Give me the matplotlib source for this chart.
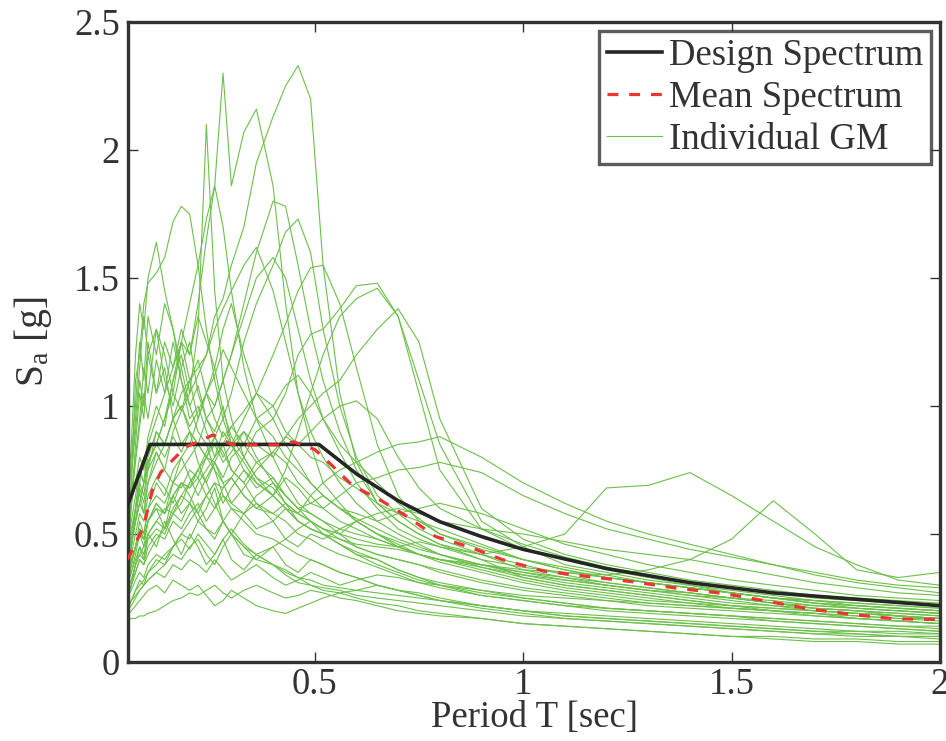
import numpy as np
import matplotlib
matplotlib.use('Agg')
import matplotlib.pyplot as plt
from matplotlib.ticker import FormatStrFormatter

plt.rcParams['font.family'] = ['Liberation Serif', 'DejaVu Serif']
plt.rcParams['mathtext.fontset'] = 'custom'
plt.rcParams['mathtext.rm'] = 'Liberation Serif'
plt.rcParams['mathtext.it'] = 'Liberation Serif:italic'

# Design spectrum
design_T = [0.05, 0.105, 0.51, 0.60, 0.70, 0.80, 0.90, 1.0, 1.2, 1.4, 1.5, 1.6, 1.8, 2.0]
design_Sa = [0.607, 0.85, 0.85, 0.735, 0.63, 0.548, 0.49, 0.44, 0.365, 0.31, 0.29, 0.27, 0.245, 0.22]

# Mean spectrum
mean_T = [0.05, 0.057, 0.09, 0.11, 0.13, 0.16, 0.19, 0.22, 0.256, 0.30, 0.35, 0.41, 0.45,
          0.50, 0.54, 0.59, 0.66, 0.72, 0.79, 0.87, 0.95, 1.05, 1.16, 1.26, 1.37, 1.48,
          1.59, 1.69, 1.80, 1.89, 2.0]
mean_Sa = [0.40, 0.42, 0.53, 0.67, 0.74, 0.79, 0.84, 0.86, 0.887, 0.85, 0.848, 0.848, 0.86,
           0.83, 0.77, 0.69, 0.63, 0.57, 0.49, 0.45, 0.40, 0.355, 0.333, 0.314, 0.288, 0.268,
           0.236, 0.206, 0.184, 0.169, 0.166]

# Individual ground motions, all on the same period grid
gm_T = [0.05, 0.06, 0.07, 0.08, 0.09, 0.10, 0.12, 0.14, 0.16, 0.18, 0.20,
        0.22, 0.24, 0.26, 0.28, 0.30, 0.33, 0.36, 0.40, 0.43, 0.46, 0.49,
        0.52, 0.56, 0.60, 0.65, 0.70, 0.75, 0.80, 0.90, 1.0,
        1.1, 1.2, 1.3, 1.4, 1.5, 1.6, 1.7, 1.8, 1.9, 2.0]

gm_Sa = [
    [0.45, 0.52, 0.60, 0.66, 0.58, 0.70, 0.82, 0.75, 0.90, 0.98, 1.05,
     1.12, 1.20, 1.35, 1.42, 1.55, 1.70, 1.95, 2.13, 2.25, 2.33, 2.20,
     1.55, 1.05, 0.78, 0.62, 0.55, 0.50, 0.46, 0.40, 0.33,
     0.30, 0.28, 0.26, 0.24, 0.22, 0.20, 0.19, 0.17, 0.16, 0.15],
    [0.40, 0.48, 0.55, 0.62, 0.70, 0.78, 0.85, 0.95, 1.10, 1.25, 1.40,
     1.55, 1.73, 1.86, 2.30, 1.86, 2.07, 2.16, 1.86, 1.40, 1.05, 0.85,
     0.70, 0.62, 0.55, 0.50, 0.45, 0.42, 0.40, 0.36, 0.32,
     0.29, 0.27, 0.25, 0.23, 0.21, 0.20, 0.18, 0.17, 0.16, 0.15],
    [0.55, 0.62, 0.70, 0.80, 0.75, 0.88, 1.00, 0.92, 1.10, 1.20, 1.05,
     1.30, 2.10, 1.45, 1.10, 0.95, 0.80, 0.72, 0.65, 0.60, 0.55, 0.52,
     0.50, 0.46, 0.42, 0.40, 0.36, 0.33, 0.30, 0.26, 0.24,
     0.22, 0.20, 0.19, 0.18, 0.17, 0.16, 0.15, 0.14, 0.13, 0.12],
    [0.35, 0.40, 0.45, 0.50, 0.48, 0.55, 0.60, 0.58, 0.70, 0.75, 0.80,
     0.85, 0.95, 1.00, 1.10, 1.20, 1.40, 1.60, 1.80, 1.78, 1.55, 1.30,
     1.10, 0.90, 0.75, 0.62, 0.55, 0.50, 0.46, 0.42, 0.38,
     0.34, 0.31, 0.29, 0.27, 0.25, 0.23, 0.21, 0.20, 0.19, 0.18],
    [0.50, 0.70, 1.10, 1.20, 1.40, 1.48, 1.52, 1.58, 1.72, 1.78, 1.75,
     1.55, 1.30, 1.10, 0.95, 0.85, 0.90, 0.80, 0.70, 0.65, 0.60, 0.55,
     0.50, 0.46, 0.42, 0.38, 0.35, 0.32, 0.30, 0.27, 0.25,
     0.23, 0.21, 0.20, 0.19, 0.18, 0.16, 0.15, 0.14, 0.13, 0.12],
    [0.30, 0.45, 0.60, 0.75, 0.70, 0.85, 0.95, 1.05, 1.15, 1.25, 1.20,
     1.40, 1.65, 1.86, 1.70, 1.45, 1.15, 0.95, 0.80, 0.70, 0.62, 0.58,
     0.55, 0.50, 0.45, 0.42, 0.40, 0.38, 0.35, 0.31, 0.28,
     0.26, 0.24, 0.22, 0.21, 0.20, 0.19, 0.18, 0.17, 0.16, 0.15],
    [0.25, 0.30, 0.35, 0.40, 0.38, 0.42, 0.48, 0.52, 0.58, 0.62, 0.70,
     0.75, 0.82, 0.88, 0.95, 1.05, 1.25, 1.40, 1.55, 1.68, 1.73, 1.60,
     1.30, 1.00, 0.80, 0.65, 0.58, 0.52, 0.48, 0.42, 0.36,
     0.33, 0.30, 0.28, 0.26, 0.24, 0.22, 0.21, 0.20, 0.19, 0.18],
    [0.30, 0.35, 0.40, 0.45, 0.42, 0.50, 0.55, 0.52, 0.60, 0.65, 0.62,
     0.70, 0.75, 0.80, 0.90, 0.85, 0.95, 1.05, 1.20, 1.32, 1.45, 1.54,
     1.55, 1.40, 1.15, 0.85, 0.65, 0.55, 0.50, 0.45, 0.40,
     0.37, 0.34, 0.31, 0.29, 0.27, 0.25, 0.23, 0.22, 0.21, 0.20],
    [0.20, 0.24, 0.28, 0.30, 0.32, 0.35, 0.38, 0.42, 0.45, 0.50, 0.55,
     0.60, 0.65, 0.70, 0.68, 0.72, 0.80, 0.90, 0.95, 1.05, 1.20, 1.28,
     1.30, 1.38, 1.47, 1.48, 1.35, 1.10, 0.85, 0.55, 0.45,
     0.38, 0.35, 0.32, 0.30, 0.28, 0.26, 0.24, 0.23, 0.22, 0.21],
    [0.35, 0.40, 0.45, 0.55, 0.50, 0.60, 0.65, 0.62, 0.70, 0.68, 0.75,
     0.72, 0.80, 0.85, 0.78, 0.82, 0.90, 0.85, 0.80, 0.88, 0.95, 1.00,
     1.05, 1.10, 1.20, 1.30, 1.38, 1.25, 0.95, 0.60, 0.48,
     0.42, 0.38, 0.35, 0.32, 0.30, 0.28, 0.26, 0.25, 0.24, 0.23],
    [0.45, 0.55, 0.65, 0.75, 0.70, 0.80, 0.90, 0.85, 0.95, 1.00, 0.90,
     0.85, 0.80, 0.75, 0.70, 0.72, 0.65, 0.60, 0.65, 0.75, 0.90, 1.05,
     1.20, 1.35, 1.42, 1.46, 1.35, 1.05, 0.75, 0.52, 0.44,
     0.40, 0.36, 0.33, 0.30, 0.27, 0.25, 0.23, 0.21, 0.20, 0.19],
    [0.60, 0.85, 1.20, 1.40, 1.30, 1.50, 1.64, 1.45, 1.30, 1.15, 1.00,
     0.90, 0.85, 0.75, 0.65, 0.60, 0.55, 0.50, 0.48, 0.45, 0.42, 0.40,
     0.38, 0.35, 0.33, 0.30, 0.28, 0.26, 0.24, 0.21, 0.19,
     0.17, 0.16, 0.15, 0.14, 0.13, 0.12, 0.11, 0.11, 0.10, 0.10],
    [0.40, 0.48, 0.55, 0.62, 0.58, 0.70, 0.78, 0.85, 0.95, 1.05, 1.10,
     1.15, 1.20, 1.30, 1.38, 1.45, 1.55, 1.62, 1.45, 1.25, 1.05, 0.90,
     0.80, 0.70, 0.62, 0.55, 0.50, 0.46, 0.42, 0.38, 0.34,
     0.31, 0.29, 0.27, 0.25, 0.23, 0.22, 0.20, 0.19, 0.18, 0.17],
    [0.30, 0.38, 0.45, 0.52, 0.50, 0.60, 0.70, 0.65, 0.75, 0.80, 0.85,
     0.95, 1.05, 1.00, 1.10, 1.20, 1.35, 1.50, 1.58, 1.50, 1.30, 1.10,
     0.95, 0.85, 0.78, 0.70, 0.62, 0.56, 0.50, 0.44, 0.40,
     0.36, 0.33, 0.31, 0.29, 0.27, 0.25, 0.23, 0.22, 0.21, 0.20],
    [0.55, 0.80, 1.00, 1.25, 1.10, 1.35, 1.20, 1.40, 1.30, 1.10, 0.95,
     1.00, 0.90, 0.80, 0.85, 0.75, 0.70, 0.62, 0.58, 0.55, 0.50, 0.48,
     0.45, 0.42, 0.40, 0.37, 0.34, 0.31, 0.29, 0.26, 0.24,
     0.22, 0.21, 0.20, 0.19, 0.18, 0.17, 0.16, 0.15, 0.14, 0.14],
    [0.45, 0.70, 0.95, 1.15, 1.35, 1.20, 1.30, 1.10, 1.00, 1.15, 1.25,
     1.05, 0.95, 0.90, 1.00, 0.85, 0.78, 0.70, 0.65, 0.60, 0.55, 0.52,
     0.50, 0.46, 0.43, 0.40, 0.36, 0.33, 0.31, 0.28, 0.25,
     0.23, 0.21, 0.20, 0.19, 0.18, 0.17, 0.16, 0.15, 0.14, 0.13],
    [0.40, 0.60, 0.85, 1.05, 0.95, 1.20, 1.05, 1.25, 1.15, 1.30, 1.20,
     1.35, 1.25, 1.15, 1.30, 1.40, 1.20, 1.05, 0.95, 0.85, 0.78, 0.70,
     0.65, 0.60, 0.55, 0.50, 0.47, 0.44, 0.42, 0.38, 0.35,
     0.32, 0.30, 0.28, 0.26, 0.25, 0.23, 0.22, 0.21, 0.20, 0.19],
    [0.35, 0.45, 0.60, 0.70, 0.80, 0.75, 0.90, 0.85, 0.95, 1.00, 0.92,
     0.98, 1.05, 0.95, 0.88, 0.92, 0.85, 0.95, 1.00, 0.90, 0.85, 0.80,
     0.78, 0.72, 0.68, 0.62, 0.58, 0.55, 0.52, 0.46, 0.40,
     0.36, 0.33, 0.31, 0.29, 0.27, 0.25, 0.24, 0.22, 0.21, 0.20],
    [0.25, 0.30, 0.35, 0.40, 0.38, 0.45, 0.50, 0.48, 0.55, 0.52, 0.58,
     0.62, 0.55, 0.60, 0.65, 0.62, 0.58, 0.65, 0.70, 0.62, 0.58, 0.65,
     0.70, 0.75, 0.78, 0.82, 0.85, 0.86, 0.88, 0.80, 0.70,
     0.62, 0.55, 0.50, 0.46, 0.42, 0.38, 0.34, 0.31, 0.29, 0.27],
    [0.20, 0.24, 0.28, 0.32, 0.30, 0.35, 0.40, 0.38, 0.45, 0.50, 0.48,
     0.55, 0.52, 0.50, 0.55, 0.60, 0.58, 0.52, 0.55, 0.60, 0.58, 0.55,
     0.52, 0.50, 0.48, 0.46, 0.45, 0.47, 0.45, 0.42, 0.45,
     0.50, 0.68, 0.69, 0.74, 0.65, 0.55, 0.45, 0.38, 0.32, 0.30],
    [0.30, 0.35, 0.42, 0.50, 0.45, 0.55, 0.62, 0.58, 0.65, 0.70, 0.68,
     0.72, 0.65, 0.60, 0.68, 0.72, 0.65, 0.60, 0.58, 0.62, 0.55, 0.52,
     0.50, 0.48, 0.46, 0.45, 0.44, 0.42, 0.40, 0.38, 0.36,
     0.35, 0.34, 0.36, 0.40, 0.48, 0.63, 0.50, 0.36, 0.33, 0.35],
    [0.28, 0.32, 0.38, 0.42, 0.40, 0.48, 0.52, 0.50, 0.58, 0.55, 0.62,
     0.58, 0.65, 0.70, 0.62, 0.68, 0.75, 0.70, 0.65, 0.72, 0.68, 0.62,
     0.60, 0.65, 0.70, 0.72, 0.75, 0.76, 0.78, 0.74, 0.65,
     0.58, 0.52, 0.48, 0.44, 0.41, 0.38, 0.35, 0.32, 0.30, 0.29],
    [0.16, 0.17, 0.17, 0.18, 0.18, 0.19, 0.20, 0.22, 0.24, 0.25, 0.27,
     0.26, 0.28, 0.30, 0.27, 0.25, 0.28, 0.30, 0.27, 0.25, 0.26, 0.28,
     0.27, 0.25, 0.24, 0.22, 0.20, 0.19, 0.18, 0.17, 0.15,
     0.14, 0.13, 0.12, 0.11, 0.10, 0.09, 0.08, 0.08, 0.07, 0.07],
    [0.22, 0.24, 0.26, 0.28, 0.30, 0.32, 0.35, 0.38, 0.42, 0.40, 0.45,
     0.48, 0.42, 0.38, 0.45, 0.50, 0.42, 0.40, 0.45, 0.38, 0.35, 0.40,
     0.38, 0.35, 0.33, 0.30, 0.28, 0.27, 0.25, 0.22, 0.20,
     0.18, 0.17, 0.16, 0.15, 0.14, 0.13, 0.12, 0.11, 0.10, 0.10],
    [0.18, 0.20, 0.22, 0.24, 0.26, 0.28, 0.30, 0.27, 0.32, 0.30, 0.28,
     0.30, 0.26, 0.22, 0.24, 0.28, 0.25, 0.22, 0.20, 0.19, 0.21, 0.23,
     0.25, 0.27, 0.28, 0.30, 0.28, 0.26, 0.24, 0.22, 0.20,
     0.19, 0.18, 0.17, 0.16, 0.15, 0.14, 0.13, 0.12, 0.12, 0.11],
    [0.30, 0.38, 0.45, 0.52, 0.48, 0.55, 0.60, 0.52, 0.65, 0.58, 0.62,
     0.55, 0.60, 0.68, 0.55, 0.50, 0.58, 0.62, 0.55, 0.48, 0.45, 0.50,
     0.48, 0.52, 0.55, 0.50, 0.46, 0.42, 0.40, 0.38, 0.35,
     0.33, 0.31, 0.29, 0.27, 0.25, 0.23, 0.21, 0.20, 0.18, 0.17],
    [0.65, 0.75, 0.90, 1.10, 1.00, 1.25, 1.05, 1.15, 0.95, 0.85, 0.90,
     0.78, 0.70, 0.62, 0.55, 0.50, 0.45, 0.42, 0.38, 0.36, 0.33, 0.30,
     0.28, 0.27, 0.25, 0.23, 0.22, 0.20, 0.19, 0.17, 0.15,
     0.14, 0.13, 0.12, 0.11, 0.10, 0.10, 0.09, 0.09, 0.08, 0.08],
    [0.38, 0.45, 0.55, 0.68, 0.62, 0.75, 0.82, 0.75, 0.70, 0.80, 0.72,
     0.65, 0.72, 0.78, 0.70, 0.62, 0.68, 0.75, 0.82, 0.78, 0.70, 0.65,
     0.60, 0.55, 0.52, 0.48, 0.45, 0.42, 0.40, 0.37, 0.34,
     0.32, 0.30, 0.28, 0.27, 0.25, 0.24, 0.22, 0.21, 0.20, 0.19],
    [0.28, 0.32, 0.38, 0.42, 0.45, 0.50, 0.55, 0.60, 0.58, 0.65, 0.70,
     0.75, 0.80, 0.78, 0.85, 0.92, 0.98, 1.05, 1.00, 1.08, 1.12, 1.05,
     0.95, 0.82, 0.70, 0.60, 0.52, 0.48, 0.45, 0.40, 0.37,
     0.35, 0.33, 0.31, 0.29, 0.27, 0.25, 0.24, 0.23, 0.22, 0.21],
    [0.25, 0.28, 0.32, 0.35, 0.33, 0.38, 0.42, 0.40, 0.45, 0.48, 0.44,
     0.50, 0.46, 0.42, 0.48, 0.52, 0.46, 0.42, 0.45, 0.48, 0.52, 0.55,
     0.52, 0.50, 0.55, 0.58, 0.60, 0.58, 0.55, 0.52, 0.50,
     0.47, 0.44, 0.42, 0.40, 0.37, 0.34, 0.31, 0.29, 0.27, 0.26],
    [0.50, 0.65, 0.80, 0.95, 1.15, 1.05, 1.30, 1.20, 1.05, 1.25, 1.10,
     0.95, 1.05, 1.15, 0.98, 0.88, 0.80, 0.72, 0.68, 0.62, 0.58, 0.55,
     0.52, 0.48, 0.45, 0.42, 0.40, 0.38, 0.36, 0.32, 0.29,
     0.27, 0.25, 0.23, 0.22, 0.21, 0.20, 0.19, 0.18, 0.17, 0.16],
    [0.32, 0.38, 0.45, 0.50, 0.48, 0.55, 0.62, 0.58, 0.65, 0.70, 0.68,
     0.75, 0.70, 0.78, 0.72, 0.80, 0.85, 0.78, 0.82, 0.88, 0.85, 0.90,
     0.95, 1.00, 1.02, 0.95, 0.80, 0.68, 0.60, 0.52, 0.46,
     0.41, 0.37, 0.34, 0.31, 0.29, 0.27, 0.25, 0.24, 0.23, 0.22],
    [0.35, 0.42, 0.50, 0.58, 0.55, 0.65, 0.72, 0.68, 0.62, 0.70, 0.65,
     0.58, 0.52, 0.48, 0.55, 0.50, 0.45, 0.40, 0.38, 0.35, 0.33, 0.32,
     0.30, 0.29, 0.28, 0.27, 0.26, 0.25, 0.24, 0.22, 0.20,
     0.18, 0.17, 0.16, 0.15, 0.14, 0.13, 0.12, 0.12, 0.11, 0.11],
    [0.48, 0.62, 0.78, 0.92, 1.05, 0.95, 1.18, 1.05, 1.25, 1.10, 1.00,
     1.08, 0.95, 0.88, 0.80, 0.85, 0.75, 0.68, 0.72, 0.65, 0.60, 0.58,
     0.55, 0.52, 0.50, 0.48, 0.45, 0.42, 0.39, 0.35, 0.31,
     0.28, 0.26, 0.24, 0.23, 0.22, 0.21, 0.20, 0.19, 0.18, 0.17],
    [0.20, 0.22, 0.25, 0.28, 0.30, 0.32, 0.35, 0.33, 0.38, 0.36, 0.40,
     0.38, 0.35, 0.40, 0.36, 0.32, 0.35, 0.38, 0.33, 0.30, 0.32, 0.35,
     0.33, 0.30, 0.32, 0.34, 0.33, 0.31, 0.30, 0.28, 0.26,
     0.25, 0.24, 0.23, 0.22, 0.21, 0.20, 0.19, 0.18, 0.17, 0.17],
    [0.42, 0.50, 0.60, 0.70, 0.65, 0.78, 0.85, 0.80, 0.88, 0.82, 0.90,
     0.85, 0.80, 0.88, 0.82, 0.75, 0.70, 0.78, 0.72, 0.65, 0.60, 0.62,
     0.65, 0.60, 0.58, 0.55, 0.58, 0.60, 0.62, 0.58, 0.52,
     0.46, 0.42, 0.38, 0.35, 0.32, 0.30, 0.28, 0.26, 0.25, 0.24],
    [0.25, 0.30, 0.38, 0.45, 0.40, 0.50, 0.45, 0.55, 0.48, 0.42, 0.50,
     0.45, 0.38, 0.42, 0.48, 0.40, 0.36, 0.42, 0.38, 0.34, 0.31, 0.30,
     0.29, 0.28, 0.26, 0.25, 0.24, 0.23, 0.22, 0.20, 0.18,
     0.17, 0.16, 0.15, 0.14, 0.13, 0.12, 0.11, 0.10, 0.10, 0.09],
    [0.38, 0.45, 0.55, 0.62, 0.70, 0.78, 0.85, 0.95, 1.05, 0.98, 1.10,
     1.18, 1.05, 1.12, 1.22, 1.15, 1.05, 0.95, 0.88, 0.80, 0.75, 0.70,
     0.65, 0.60, 0.56, 0.52, 0.48, 0.45, 0.42, 0.37, 0.33,
     0.30, 0.28, 0.26, 0.24, 0.22, 0.21, 0.20, 0.19, 0.18, 0.17],
]

dark = '#333333'
green = '#6cc04a'
fs = 26.5

fig = plt.figure(figsize=(9.46, 7.41), dpi=100)
ax = fig.add_axes([0.1353, 0.1066, 0.8584, 0.8637])

for i, sa in enumerate(gm_Sa):
    ax.plot(gm_T, sa, color=green, lw=0.8, zorder=2,
            label='Individual GM' if i == 0 else None)
ax.plot(design_T, design_Sa, color='#262626', lw=2.6, zorder=3, label='Design Spectrum')
ax.plot(mean_T, mean_Sa, color='#ee3333', lw=2.3, ls=(0, (3.4, 3.4)), zorder=4,
        label='Mean Spectrum')

ax.set_xlim(0.052, 2.0)
ax.set_ylim(0, 2.5)
ax.set_xticks([0.5, 1.0, 1.5, 2.0])
ax.set_yticks([0, 0.5, 1.0, 1.5, 2.0, 2.5])
ax.xaxis.set_major_formatter(FormatStrFormatter('%g'))
ax.yaxis.set_major_formatter(FormatStrFormatter('%g'))
ax.tick_params(direction='in', length=7, width=1, colors=dark, labelsize=fs,
               top=True, right=True, pad=6)
ax.tick_params(axis='x', pad=4)
for s in ax.spines.values():
    s.set_linewidth(2.4)
    s.set_color(dark)

ax.set_xlabel('Period T [sec]', fontsize=fs, color=dark, labelpad=-1)
ax.set_ylabel(r'S$_\mathregular{a}$ [g]', fontsize=fs + 2, color=dark, labelpad=14)

handles, labels = ax.get_legend_handles_labels()
order = [1, 2, 0]
leg = ax.legend([handles[i] for i in order], [labels[i] for i in order],
                loc='upper right', fontsize=fs, frameon=True, fancybox=False,
                handlelength=1.5, handletextpad=0.2, labelspacing=0.2,
                borderpad=0.2, borderaxespad=0.25)
leg.get_frame().set_edgecolor(dark)
leg.get_frame().set_linewidth(2.4)
for t in leg.get_texts():
    t.set_color(dark)

fig.savefig('out.png', dpi=100)
